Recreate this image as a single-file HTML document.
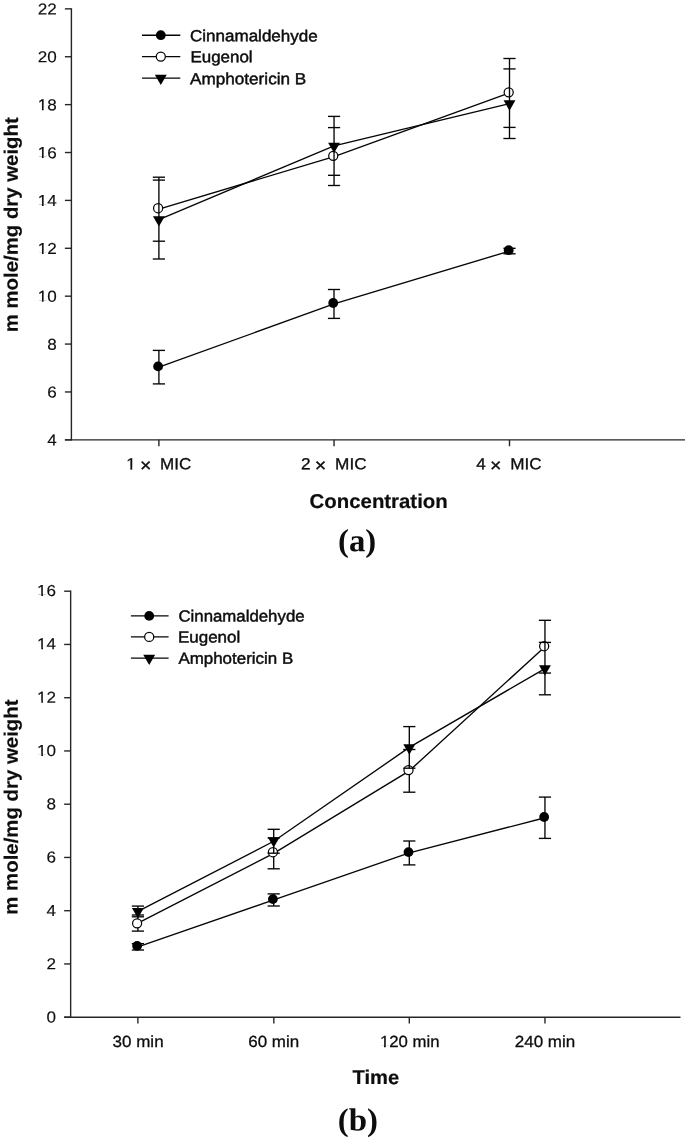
<!DOCTYPE html>
<html><head><meta charset="utf-8"><title>Figure</title>
<style>
html,body{margin:0;padding:0;background:#fff;}
body{width:685px;height:1138px;overflow:hidden;font-family:"Liberation Sans",sans-serif;}
svg{display:block;will-change:transform;}
</style></head><body>
<svg width="685" height="1138" viewBox="0 0 685 1138">
<rect width="685" height="1138" fill="#fff"/>
<line x1="71.40" y1="8.20" x2="71.40" y2="440.50" stroke="#262626" stroke-width="1.4"/>
<line x1="64.90" y1="439.85" x2="685.00" y2="439.85" stroke="#262626" stroke-width="1.4"/>
<line x1="64.90" y1="8.85" x2="71.40" y2="8.85" stroke="#262626" stroke-width="1.4"/>
<text transform="translate(37.72,14.45) rotate(0.05) scale(1.0750,1)" font-family="Liberation Sans, sans-serif" font-size="15.9" font-weight="normal" fill="#0d0d0d" stroke="#0d0d0d" stroke-width="0.15" xml:space="preserve">22</text>
<line x1="64.90" y1="56.74" x2="71.40" y2="56.74" stroke="#262626" stroke-width="1.4"/>
<text transform="translate(37.72,62.34) rotate(0.05) scale(1.0750,1)" font-family="Liberation Sans, sans-serif" font-size="15.9" font-weight="normal" fill="#0d0d0d" stroke="#0d0d0d" stroke-width="0.15" xml:space="preserve">20</text>
<line x1="64.90" y1="104.63" x2="71.40" y2="104.63" stroke="#262626" stroke-width="1.4"/>
<text transform="translate(37.72,110.23) rotate(0.05) scale(1.0750,1)" font-family="Liberation Sans, sans-serif" font-size="15.9" font-weight="normal" fill="#0d0d0d" stroke="#0d0d0d" stroke-width="0.15" xml:space="preserve">18</text><rect transform="translate(37.72,110.23) rotate(0.05) scale(1.0750,1)" x="0.136" y="-1.613" width="3.767" height="2.913" fill="#fff"/><rect transform="translate(37.72,110.23) rotate(0.05) scale(1.0750,1)" x="5.499" y="-1.613" width="3.563" height="2.913" fill="#fff"/>
<line x1="64.90" y1="152.52" x2="71.40" y2="152.52" stroke="#262626" stroke-width="1.4"/>
<text transform="translate(37.72,158.12) rotate(0.05) scale(1.0750,1)" font-family="Liberation Sans, sans-serif" font-size="15.9" font-weight="normal" fill="#0d0d0d" stroke="#0d0d0d" stroke-width="0.15" xml:space="preserve">16</text><rect transform="translate(37.72,158.12) rotate(0.05) scale(1.0750,1)" x="0.136" y="-1.613" width="3.767" height="2.913" fill="#fff"/><rect transform="translate(37.72,158.12) rotate(0.05) scale(1.0750,1)" x="5.499" y="-1.613" width="3.563" height="2.913" fill="#fff"/>
<line x1="64.90" y1="200.41" x2="71.40" y2="200.41" stroke="#262626" stroke-width="1.4"/>
<text transform="translate(37.72,206.01) rotate(0.05) scale(1.0750,1)" font-family="Liberation Sans, sans-serif" font-size="15.9" font-weight="normal" fill="#0d0d0d" stroke="#0d0d0d" stroke-width="0.15" xml:space="preserve">14</text><rect transform="translate(37.72,206.01) rotate(0.05) scale(1.0750,1)" x="0.136" y="-1.613" width="3.767" height="2.913" fill="#fff"/><rect transform="translate(37.72,206.01) rotate(0.05) scale(1.0750,1)" x="5.499" y="-1.613" width="3.563" height="2.913" fill="#fff"/>
<line x1="64.90" y1="248.29" x2="71.40" y2="248.29" stroke="#262626" stroke-width="1.4"/>
<text transform="translate(37.72,253.89) rotate(0.05) scale(1.0750,1)" font-family="Liberation Sans, sans-serif" font-size="15.9" font-weight="normal" fill="#0d0d0d" stroke="#0d0d0d" stroke-width="0.15" xml:space="preserve">12</text><rect transform="translate(37.72,253.89) rotate(0.05) scale(1.0750,1)" x="0.136" y="-1.613" width="3.767" height="2.913" fill="#fff"/><rect transform="translate(37.72,253.89) rotate(0.05) scale(1.0750,1)" x="5.499" y="-1.613" width="3.563" height="2.913" fill="#fff"/>
<line x1="64.90" y1="296.18" x2="71.40" y2="296.18" stroke="#262626" stroke-width="1.4"/>
<text transform="translate(37.72,301.78) rotate(0.05) scale(1.0750,1)" font-family="Liberation Sans, sans-serif" font-size="15.9" font-weight="normal" fill="#0d0d0d" stroke="#0d0d0d" stroke-width="0.15" xml:space="preserve">10</text><rect transform="translate(37.72,301.78) rotate(0.05) scale(1.0750,1)" x="0.136" y="-1.613" width="3.767" height="2.913" fill="#fff"/><rect transform="translate(37.72,301.78) rotate(0.05) scale(1.0750,1)" x="5.499" y="-1.613" width="3.563" height="2.913" fill="#fff"/>
<line x1="64.90" y1="344.07" x2="71.40" y2="344.07" stroke="#262626" stroke-width="1.4"/>
<text transform="translate(47.23,349.67) rotate(0.05) scale(1.0750,1)" font-family="Liberation Sans, sans-serif" font-size="15.9" font-weight="normal" fill="#0d0d0d" stroke="#0d0d0d" stroke-width="0.15" xml:space="preserve">8</text>
<line x1="64.90" y1="391.96" x2="71.40" y2="391.96" stroke="#262626" stroke-width="1.4"/>
<text transform="translate(47.23,397.56) rotate(0.05) scale(1.0750,1)" font-family="Liberation Sans, sans-serif" font-size="15.9" font-weight="normal" fill="#0d0d0d" stroke="#0d0d0d" stroke-width="0.15" xml:space="preserve">6</text>
<line x1="64.90" y1="439.85" x2="71.40" y2="439.85" stroke="#262626" stroke-width="1.4"/>
<text transform="translate(47.23,445.45) rotate(0.05) scale(1.0750,1)" font-family="Liberation Sans, sans-serif" font-size="15.9" font-weight="normal" fill="#0d0d0d" stroke="#0d0d0d" stroke-width="0.15" xml:space="preserve">4</text>
<line x1="158.90" y1="439.85" x2="158.90" y2="446.25" stroke="#262626" stroke-width="1.4"/>
<text transform="translate(126.24,469.30) rotate(0.05) scale(1.0603,1)" font-family="Liberation Sans, sans-serif" font-size="16.1" font-weight="normal" fill="#0d0d0d" stroke="#0d0d0d" stroke-width="0.3" xml:space="preserve">1 <tspan dy="2.1" dx="-0.5" font-size="18.4">×</tspan><tspan dy="-2.1" dx="-0.7"> </tspan> MIC</text><rect transform="translate(126.24,469.30) rotate(0.05) scale(1.0603,1)" x="0.076" y="-1.703" width="3.802" height="3.003" fill="#fff"/><rect transform="translate(126.24,469.30) rotate(0.05) scale(1.0603,1)" x="5.641" y="-1.703" width="3.596" height="3.003" fill="#fff"/>
<line x1="334.05" y1="439.85" x2="334.05" y2="446.25" stroke="#262626" stroke-width="1.4"/>
<text transform="translate(300.90,469.30) rotate(0.05) scale(1.0707,1)" font-family="Liberation Sans, sans-serif" font-size="16.1" font-weight="normal" fill="#0d0d0d" stroke="#0d0d0d" stroke-width="0.3" xml:space="preserve">2 <tspan dy="2.1" dx="-0.5" font-size="18.4">×</tspan><tspan dy="-2.1" dx="-0.7"> </tspan> MIC</text>
<line x1="509.50" y1="439.85" x2="509.50" y2="446.25" stroke="#262626" stroke-width="1.4"/>
<text transform="translate(476.30,469.30) rotate(0.05) scale(1.0642,1)" font-family="Liberation Sans, sans-serif" font-size="16.1" font-weight="normal" fill="#0d0d0d" stroke="#0d0d0d" stroke-width="0.3" xml:space="preserve">4 <tspan dy="2.1" dx="-0.5" font-size="18.4">×</tspan><tspan dy="-2.1" dx="-0.7"> </tspan> MIC</text>
<line x1="142.00" y1="35.20" x2="180.30" y2="35.20" stroke="#050505" stroke-width="1.35"/>
<circle cx="160.80" cy="35.20" r="4.9" fill="#000"/>
<text transform="translate(190.00,41.30) rotate(0.05) scale(1.0577,1)" font-family="Liberation Sans, sans-serif" font-size="16.1" font-weight="normal" fill="#0d0d0d" stroke="#0d0d0d" stroke-width="0.45" xml:space="preserve">Cinnamaldehyde</text>
<line x1="142.00" y1="56.60" x2="180.30" y2="56.60" stroke="#050505" stroke-width="1.35"/>
<circle cx="160.80" cy="56.60" r="4.55" fill="#fff" stroke="#050505" stroke-width="1.25"/>
<text transform="translate(190.45,62.30) rotate(0.05) scale(1.0524,1)" font-family="Liberation Sans, sans-serif" font-size="16.1" font-weight="normal" fill="#0d0d0d" stroke="#0d0d0d" stroke-width="0.45" xml:space="preserve">Eugenol</text>
<line x1="142.00" y1="78.10" x2="180.30" y2="78.10" stroke="#050505" stroke-width="1.35"/>
<polygon points="154.85,74.67 166.75,74.67 160.80,84.97" fill="#000"/>
<text transform="translate(190.10,84.15) rotate(0.05) scale(1.0646,1)" font-family="Liberation Sans, sans-serif" font-size="16.1" font-weight="normal" fill="#0d0d0d" stroke="#0d0d0d" stroke-width="0.45" xml:space="preserve">Amphotericin B</text>
<line x1="158.90" y1="350.40" x2="158.90" y2="383.90" stroke="#050505" stroke-width="1.35"/>
<line x1="152.80" y1="350.40" x2="165.00" y2="350.40" stroke="#050505" stroke-width="1.35"/>
<line x1="152.80" y1="383.90" x2="165.00" y2="383.90" stroke="#050505" stroke-width="1.35"/>
<line x1="334.00" y1="289.50" x2="334.00" y2="318.40" stroke="#050505" stroke-width="1.35"/>
<line x1="327.90" y1="289.50" x2="340.10" y2="289.50" stroke="#050505" stroke-width="1.35"/>
<line x1="327.90" y1="318.40" x2="340.10" y2="318.40" stroke="#050505" stroke-width="1.35"/>
<line x1="509.50" y1="248.30" x2="509.50" y2="253.80" stroke="#050505" stroke-width="1.35"/>
<line x1="503.40" y1="248.30" x2="515.60" y2="248.30" stroke="#050505" stroke-width="1.35"/>
<line x1="503.40" y1="253.80" x2="515.60" y2="253.80" stroke="#050505" stroke-width="1.35"/>
<polyline points="158.90,367.15 334.00,303.95 509.50,251.05" fill="none" stroke="#050505" stroke-width="1.35"/>
<circle cx="158.10" cy="366.40" r="4.9" fill="#000"/>
<circle cx="333.20" cy="303.00" r="4.9" fill="#000"/>
<circle cx="508.70" cy="250.20" r="4.9" fill="#000"/>
<line x1="158.90" y1="177.20" x2="158.90" y2="180.10" stroke="#050505" stroke-width="1.35"/>
<line x1="152.80" y1="177.20" x2="165.00" y2="177.20" stroke="#050505" stroke-width="1.35"/>
<line x1="152.80" y1="241.20" x2="165.00" y2="241.20" stroke="#050505" stroke-width="1.35"/>
<line x1="334.05" y1="175.30" x2="334.05" y2="185.50" stroke="#050505" stroke-width="1.35"/>
<line x1="327.95" y1="127.60" x2="340.15" y2="127.60" stroke="#050505" stroke-width="1.35"/>
<line x1="327.95" y1="185.50" x2="340.15" y2="185.50" stroke="#050505" stroke-width="1.35"/>
<line x1="509.50" y1="58.50" x2="509.50" y2="68.90" stroke="#050505" stroke-width="1.35"/>
<line x1="503.40" y1="58.50" x2="515.60" y2="58.50" stroke="#050505" stroke-width="1.35"/>
<line x1="503.40" y1="127.40" x2="515.60" y2="127.40" stroke="#050505" stroke-width="1.35"/>
<polyline points="158.90,209.20 334.05,156.55 509.50,92.95" fill="none" stroke="#050505" stroke-width="1.35"/>
<circle cx="158.10" cy="208.20" r="4.55" fill="#fff" stroke="#050505" stroke-width="1.25"/>
<circle cx="333.25" cy="155.80" r="4.55" fill="#fff" stroke="#050505" stroke-width="1.25"/>
<circle cx="508.70" cy="92.30" r="4.55" fill="#fff" stroke="#050505" stroke-width="1.25"/>
<line x1="158.90" y1="180.10" x2="158.90" y2="259.00" stroke="#050505" stroke-width="1.35"/>
<line x1="152.80" y1="180.10" x2="165.00" y2="180.10" stroke="#050505" stroke-width="1.35"/>
<line x1="152.80" y1="259.00" x2="165.00" y2="259.00" stroke="#050505" stroke-width="1.35"/>
<line x1="334.05" y1="116.40" x2="334.05" y2="175.30" stroke="#050505" stroke-width="1.35"/>
<line x1="327.95" y1="116.40" x2="340.15" y2="116.40" stroke="#050505" stroke-width="1.35"/>
<line x1="327.95" y1="175.30" x2="340.15" y2="175.30" stroke="#050505" stroke-width="1.35"/>
<line x1="509.50" y1="68.90" x2="509.50" y2="138.50" stroke="#050505" stroke-width="1.35"/>
<line x1="503.40" y1="68.90" x2="515.60" y2="68.90" stroke="#050505" stroke-width="1.35"/>
<line x1="503.40" y1="138.50" x2="515.60" y2="138.50" stroke="#050505" stroke-width="1.35"/>
<polyline points="158.90,219.55 334.05,145.85 509.50,103.70" fill="none" stroke="#050505" stroke-width="1.35"/>
<polygon points="152.95,216.27 164.85,216.27 158.90,226.57" fill="#000"/>
<polygon points="328.10,142.67 340.00,142.67 334.05,152.97" fill="#000"/>
<polygon points="503.55,100.37 515.45,100.37 509.50,110.67" fill="#000"/>
<text transform="translate(17.70,332.35) rotate(-89.95) scale(1.0459,1)" font-family="Liberation Sans, sans-serif" font-size="19.5" font-weight="bold" fill="#0d0d0d" stroke="#0d0d0d" stroke-width="0.15">m mole/mg dry weight</text>
<text transform="translate(309.60,507.90) rotate(0.05) scale(1.0191,1)" font-family="Liberation Sans, sans-serif" font-size="20" font-weight="bold" fill="#0d0d0d" stroke="#0d0d0d" stroke-width="0.2" xml:space="preserve">Concentration</text>
<text transform="translate(337.98,551.30) rotate(0.05) scale(1.0237,1)" font-family="Liberation Serif, sans-serif" font-size="32" font-weight="bold" fill="#0d0d0d" stroke="#0d0d0d" stroke-width="0" xml:space="preserve">(a)</text>
<line x1="70.65" y1="590.55" x2="70.65" y2="1017.85" stroke="#262626" stroke-width="1.4"/>
<line x1="64.15" y1="1017.20" x2="680.50" y2="1017.20" stroke="#262626" stroke-width="1.4"/>
<line x1="64.15" y1="591.20" x2="70.65" y2="591.20" stroke="#262626" stroke-width="1.4"/>
<text transform="translate(37.12,596.00) rotate(0.05) scale(1.0750,1)" font-family="Liberation Sans, sans-serif" font-size="15.9" font-weight="normal" fill="#0d0d0d" stroke="#0d0d0d" stroke-width="0.15" xml:space="preserve">16</text><rect transform="translate(37.12,596.00) rotate(0.05) scale(1.0750,1)" x="0.136" y="-1.613" width="3.767" height="2.913" fill="#fff"/><rect transform="translate(37.12,596.00) rotate(0.05) scale(1.0750,1)" x="5.499" y="-1.613" width="3.563" height="2.913" fill="#fff"/>
<line x1="64.15" y1="644.45" x2="70.65" y2="644.45" stroke="#262626" stroke-width="1.4"/>
<text transform="translate(37.12,649.33) rotate(0.05) scale(1.0750,1)" font-family="Liberation Sans, sans-serif" font-size="15.9" font-weight="normal" fill="#0d0d0d" stroke="#0d0d0d" stroke-width="0.15" xml:space="preserve">14</text><rect transform="translate(37.12,649.33) rotate(0.05) scale(1.0750,1)" x="0.136" y="-1.613" width="3.767" height="2.913" fill="#fff"/><rect transform="translate(37.12,649.33) rotate(0.05) scale(1.0750,1)" x="5.499" y="-1.613" width="3.563" height="2.913" fill="#fff"/>
<line x1="64.15" y1="697.70" x2="70.65" y2="697.70" stroke="#262626" stroke-width="1.4"/>
<text transform="translate(37.12,702.65) rotate(0.05) scale(1.0750,1)" font-family="Liberation Sans, sans-serif" font-size="15.9" font-weight="normal" fill="#0d0d0d" stroke="#0d0d0d" stroke-width="0.15" xml:space="preserve">12</text><rect transform="translate(37.12,702.65) rotate(0.05) scale(1.0750,1)" x="0.136" y="-1.613" width="3.767" height="2.913" fill="#fff"/><rect transform="translate(37.12,702.65) rotate(0.05) scale(1.0750,1)" x="5.499" y="-1.613" width="3.563" height="2.913" fill="#fff"/>
<line x1="64.15" y1="750.95" x2="70.65" y2="750.95" stroke="#262626" stroke-width="1.4"/>
<text transform="translate(37.12,755.98) rotate(0.05) scale(1.0750,1)" font-family="Liberation Sans, sans-serif" font-size="15.9" font-weight="normal" fill="#0d0d0d" stroke="#0d0d0d" stroke-width="0.15" xml:space="preserve">10</text><rect transform="translate(37.12,755.98) rotate(0.05) scale(1.0750,1)" x="0.136" y="-1.613" width="3.767" height="2.913" fill="#fff"/><rect transform="translate(37.12,755.98) rotate(0.05) scale(1.0750,1)" x="5.499" y="-1.613" width="3.563" height="2.913" fill="#fff"/>
<line x1="64.15" y1="804.20" x2="70.65" y2="804.20" stroke="#262626" stroke-width="1.4"/>
<text transform="translate(46.62,809.30) rotate(0.05) scale(1.0750,1)" font-family="Liberation Sans, sans-serif" font-size="15.9" font-weight="normal" fill="#0d0d0d" stroke="#0d0d0d" stroke-width="0.15" xml:space="preserve">8</text>
<line x1="64.15" y1="857.45" x2="70.65" y2="857.45" stroke="#262626" stroke-width="1.4"/>
<text transform="translate(46.62,862.62) rotate(0.05) scale(1.0750,1)" font-family="Liberation Sans, sans-serif" font-size="15.9" font-weight="normal" fill="#0d0d0d" stroke="#0d0d0d" stroke-width="0.15" xml:space="preserve">6</text>
<line x1="64.15" y1="910.70" x2="70.65" y2="910.70" stroke="#262626" stroke-width="1.4"/>
<text transform="translate(46.62,915.95) rotate(0.05) scale(1.0750,1)" font-family="Liberation Sans, sans-serif" font-size="15.9" font-weight="normal" fill="#0d0d0d" stroke="#0d0d0d" stroke-width="0.15" xml:space="preserve">4</text>
<line x1="64.15" y1="963.95" x2="70.65" y2="963.95" stroke="#262626" stroke-width="1.4"/>
<text transform="translate(46.62,969.28) rotate(0.05) scale(1.0750,1)" font-family="Liberation Sans, sans-serif" font-size="15.9" font-weight="normal" fill="#0d0d0d" stroke="#0d0d0d" stroke-width="0.15" xml:space="preserve">2</text>
<line x1="64.15" y1="1017.20" x2="70.65" y2="1017.20" stroke="#262626" stroke-width="1.4"/>
<text transform="translate(46.62,1022.60) rotate(0.05) scale(1.0750,1)" font-family="Liberation Sans, sans-serif" font-size="15.9" font-weight="normal" fill="#0d0d0d" stroke="#0d0d0d" stroke-width="0.15" xml:space="preserve">0</text>
<line x1="137.90" y1="1017.20" x2="137.90" y2="1023.40" stroke="#262626" stroke-width="1.4"/>
<text transform="translate(112.60,1047.00) rotate(0.05) scale(1.0559,1)" font-family="Liberation Sans, sans-serif" font-size="16.1" font-weight="normal" fill="#0d0d0d" stroke="#0d0d0d" stroke-width="0.3" xml:space="preserve">30 min</text>
<line x1="273.85" y1="1017.20" x2="273.85" y2="1023.40" stroke="#262626" stroke-width="1.4"/>
<text transform="translate(248.30,1047.00) rotate(0.05) scale(1.0538,1)" font-family="Liberation Sans, sans-serif" font-size="16.1" font-weight="normal" fill="#0d0d0d" stroke="#0d0d0d" stroke-width="0.3" xml:space="preserve">60 min</text>
<line x1="409.30" y1="1017.20" x2="409.30" y2="1023.40" stroke="#262626" stroke-width="1.4"/>
<text transform="translate(379.96,1047.00) rotate(0.05) scale(1.0397,1)" font-family="Liberation Sans, sans-serif" font-size="16.1" font-weight="normal" fill="#0d0d0d" stroke="#0d0d0d" stroke-width="0.3" xml:space="preserve">120 min</text><rect transform="translate(379.96,1047.00) rotate(0.05) scale(1.0397,1)" x="0.076" y="-1.703" width="3.802" height="3.003" fill="#fff"/><rect transform="translate(379.96,1047.00) rotate(0.05) scale(1.0397,1)" x="5.641" y="-1.703" width="3.596" height="3.003" fill="#fff"/>
<line x1="544.95" y1="1017.20" x2="544.95" y2="1023.40" stroke="#262626" stroke-width="1.4"/>
<text transform="translate(514.80,1047.00) rotate(0.05) scale(1.0550,1)" font-family="Liberation Sans, sans-serif" font-size="16.1" font-weight="normal" fill="#0d0d0d" stroke="#0d0d0d" stroke-width="0.3" xml:space="preserve">240 min</text>
<line x1="130.90" y1="615.90" x2="168.60" y2="615.90" stroke="#050505" stroke-width="1.35"/>
<circle cx="149.20" cy="615.90" r="4.9" fill="#000"/>
<text transform="translate(178.40,621.40) rotate(0.05) scale(1.0453,1)" font-family="Liberation Sans, sans-serif" font-size="16.1" font-weight="normal" fill="#0d0d0d" stroke="#0d0d0d" stroke-width="0.45" xml:space="preserve">Cinnamaldehyde</text>
<line x1="130.90" y1="636.90" x2="168.60" y2="636.90" stroke="#050505" stroke-width="1.35"/>
<circle cx="149.20" cy="636.90" r="4.55" fill="#fff" stroke="#050505" stroke-width="1.25"/>
<text transform="translate(177.95,642.50) rotate(0.05) scale(1.0541,1)" font-family="Liberation Sans, sans-serif" font-size="16.1" font-weight="normal" fill="#0d0d0d" stroke="#0d0d0d" stroke-width="0.45" xml:space="preserve">Eugenol</text>
<line x1="130.90" y1="658.10" x2="168.60" y2="658.10" stroke="#050505" stroke-width="1.35"/>
<polygon points="143.25,654.67 155.15,654.67 149.20,664.97" fill="#000"/>
<text transform="translate(178.40,663.70) rotate(0.05) scale(1.0517,1)" font-family="Liberation Sans, sans-serif" font-size="16.1" font-weight="normal" fill="#0d0d0d" stroke="#0d0d0d" stroke-width="0.45" xml:space="preserve">Amphotericin B</text>
<line x1="137.90" y1="943.70" x2="137.90" y2="950.00" stroke="#050505" stroke-width="1.35"/>
<line x1="131.80" y1="943.70" x2="144.00" y2="943.70" stroke="#050505" stroke-width="1.35"/>
<line x1="131.80" y1="950.00" x2="144.00" y2="950.00" stroke="#050505" stroke-width="1.35"/>
<line x1="273.70" y1="893.90" x2="273.70" y2="906.00" stroke="#050505" stroke-width="1.35"/>
<line x1="267.60" y1="893.90" x2="279.80" y2="893.90" stroke="#050505" stroke-width="1.35"/>
<line x1="267.60" y1="906.00" x2="279.80" y2="906.00" stroke="#050505" stroke-width="1.35"/>
<line x1="409.30" y1="841.00" x2="409.30" y2="864.90" stroke="#050505" stroke-width="1.35"/>
<line x1="403.20" y1="841.00" x2="415.40" y2="841.00" stroke="#050505" stroke-width="1.35"/>
<line x1="403.20" y1="864.90" x2="415.40" y2="864.90" stroke="#050505" stroke-width="1.35"/>
<line x1="544.95" y1="797.10" x2="544.95" y2="838.40" stroke="#050505" stroke-width="1.35"/>
<line x1="538.85" y1="797.10" x2="551.05" y2="797.10" stroke="#050505" stroke-width="1.35"/>
<line x1="538.85" y1="838.40" x2="551.05" y2="838.40" stroke="#050505" stroke-width="1.35"/>
<polyline points="137.90,946.85 273.70,899.95 409.30,852.95 544.95,817.75" fill="none" stroke="#050505" stroke-width="1.35"/>
<circle cx="137.10" cy="945.90" r="4.9" fill="#000"/>
<circle cx="272.90" cy="899.10" r="4.9" fill="#000"/>
<circle cx="408.50" cy="852.10" r="4.9" fill="#000"/>
<circle cx="544.15" cy="817.00" r="4.9" fill="#000"/>
<line x1="137.90" y1="916.80" x2="137.90" y2="931.10" stroke="#050505" stroke-width="1.35"/>
<line x1="131.80" y1="915.00" x2="144.00" y2="915.00" stroke="#050505" stroke-width="1.35"/>
<line x1="131.80" y1="931.10" x2="144.00" y2="931.10" stroke="#050505" stroke-width="1.35"/>
<line x1="273.70" y1="853.20" x2="273.70" y2="868.80" stroke="#050505" stroke-width="1.35"/>
<line x1="267.60" y1="838.00" x2="279.80" y2="838.00" stroke="#050505" stroke-width="1.35"/>
<line x1="267.60" y1="868.80" x2="279.80" y2="868.80" stroke="#050505" stroke-width="1.35"/>
<line x1="409.30" y1="768.20" x2="409.30" y2="792.20" stroke="#050505" stroke-width="1.35"/>
<line x1="403.20" y1="749.50" x2="415.40" y2="749.50" stroke="#050505" stroke-width="1.35"/>
<line x1="403.20" y1="792.20" x2="415.40" y2="792.20" stroke="#050505" stroke-width="1.35"/>
<line x1="544.95" y1="620.30" x2="544.95" y2="642.40" stroke="#050505" stroke-width="1.35"/>
<line x1="538.85" y1="620.30" x2="551.05" y2="620.30" stroke="#050505" stroke-width="1.35"/>
<line x1="538.85" y1="673.05" x2="551.05" y2="673.05" stroke="#050505" stroke-width="1.35"/>
<polyline points="137.90,923.05 273.70,853.40 409.30,770.85 544.95,646.67" fill="none" stroke="#050505" stroke-width="1.35"/>
<circle cx="137.10" cy="923.30" r="4.55" fill="#fff" stroke="#050505" stroke-width="1.25"/>
<circle cx="272.90" cy="852.20" r="4.55" fill="#fff" stroke="#050505" stroke-width="1.25"/>
<circle cx="408.50" cy="770.10" r="4.55" fill="#fff" stroke="#050505" stroke-width="1.25"/>
<circle cx="544.15" cy="646.20" r="4.55" fill="#fff" stroke="#050505" stroke-width="1.25"/>
<line x1="137.90" y1="906.10" x2="137.90" y2="916.80" stroke="#050505" stroke-width="1.35"/>
<line x1="131.80" y1="906.10" x2="144.00" y2="906.10" stroke="#050505" stroke-width="1.35"/>
<line x1="131.80" y1="916.80" x2="144.00" y2="916.80" stroke="#050505" stroke-width="1.35"/>
<line x1="273.70" y1="829.30" x2="273.70" y2="853.20" stroke="#050505" stroke-width="1.35"/>
<line x1="267.60" y1="829.30" x2="279.80" y2="829.30" stroke="#050505" stroke-width="1.35"/>
<line x1="267.60" y1="853.20" x2="279.80" y2="853.20" stroke="#050505" stroke-width="1.35"/>
<line x1="409.30" y1="726.60" x2="409.30" y2="768.20" stroke="#050505" stroke-width="1.35"/>
<line x1="403.20" y1="726.60" x2="415.40" y2="726.60" stroke="#050505" stroke-width="1.35"/>
<line x1="403.20" y1="768.20" x2="415.40" y2="768.20" stroke="#050505" stroke-width="1.35"/>
<line x1="544.95" y1="642.40" x2="544.95" y2="694.80" stroke="#050505" stroke-width="1.35"/>
<line x1="538.85" y1="642.40" x2="551.05" y2="642.40" stroke="#050505" stroke-width="1.35"/>
<line x1="538.85" y1="694.80" x2="551.05" y2="694.80" stroke="#050505" stroke-width="1.35"/>
<polyline points="137.90,911.45 273.70,841.25 409.30,747.40 544.95,668.60" fill="none" stroke="#050505" stroke-width="1.35"/>
<polygon points="131.95,907.97 143.85,907.97 137.90,918.27" fill="#000"/>
<polygon points="267.75,837.27 279.65,837.27 273.70,847.57" fill="#000"/>
<polygon points="403.35,744.37 415.25,744.37 409.30,754.67" fill="#000"/>
<polygon points="539.00,665.27 550.90,665.27 544.95,675.57" fill="#000"/>
<text transform="translate(17.60,914.75) rotate(-89.95) scale(1.0474,1)" font-family="Liberation Sans, sans-serif" font-size="19.5" font-weight="bold" fill="#0d0d0d" stroke="#0d0d0d" stroke-width="0.15">m mole/mg dry weight</text>
<text transform="translate(352.50,1084.10) rotate(0.05) scale(1.0088,1)" font-family="Liberation Sans, sans-serif" font-size="20" font-weight="bold" fill="#0d0d0d" stroke="#0d0d0d" stroke-width="0.2" xml:space="preserve">Time</text>
<text transform="translate(337.77,1130.40) rotate(0.05) scale(1.0306,1)" font-family="Liberation Serif, sans-serif" font-size="32" font-weight="bold" fill="#0d0d0d" stroke="#0d0d0d" stroke-width="0" xml:space="preserve">(b)</text>
</svg>
</body></html>
